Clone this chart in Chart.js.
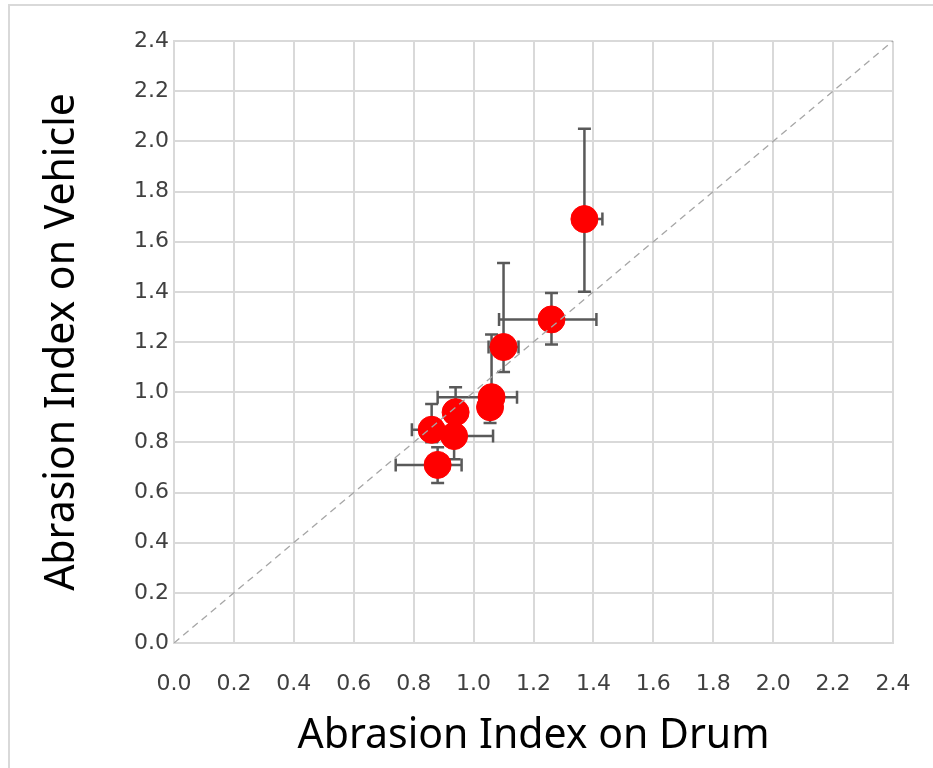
<!DOCTYPE html>
<html>
<head>
<meta charset="utf-8">
<script src="https://cdn.jsdelivr.net/npm/chart.js@4"></script>
<style>
  html, body { margin: 0; padding: 0; background: #fff; overflow: hidden; }
  #wrap { width: 933px; height: 768px; position: relative; }
  canvas { display: block; }
</style>
</head>
<body>
<div id="wrap"><canvas id="chart"></canvas></div>
<script>
// ---- data ----
const drumX    = [1.37, 1.26, 1.10, 1.06, 1.055, 0.94, 0.86, 0.935, 0.88];
const vehicleY = [1.69, 1.29, 1.18, 0.98, 0.94, 0.92, 0.85, 0.825, 0.71];
const xErrMinus = [0.03, 0.175, 0.05, 0.18, 0.02, 0.03, 0.066, 0.055, 0.14];
const xErrPlus  = [0.06, 0.15, 0.05, 0.085, 0.02, 0.03, 0.06, 0.13, 0.08];
const yErrMinus = [0.29, 0.10, 0.10, 0.05, 0.063, 0.07, 0.05, 0.092, 0.072];
const yErrPlus  = [0.36, 0.105, 0.335, 0.25, 0.06, 0.10, 0.103, 0.075, 0.07];
const ticks = [0.0, 0.2, 0.4, 0.6, 0.8, 1.0, 1.2, 1.4, 1.6, 1.8, 2.0, 2.2, 2.4];
const diagonal = [{ x: 0, y: 0 }, { x: 2.4, y: 2.4 }];

const points = drumX.map((x, i) => ({ x, y: vehicleY[i] }));

// error bars, drawn before the markers
const errorBars = {
  id: 'errorBars',
  beforeDatasetDraw(chart, args) {
    if (args.index !== 1) return;
    const { ctx, scales: { x: xs, y: ys } } = chart;
    const cap = 6.5;
    ctx.save();
    ctx.strokeStyle = '#595959';
    ctx.lineWidth = 2.5;
    points.forEach((p, i) => {
      const px = xs.getPixelForValue(p.x), py = ys.getPixelForValue(p.y);
      const x0 = xs.getPixelForValue(p.x - xErrMinus[i]), x1 = xs.getPixelForValue(p.x + xErrPlus[i]);
      const y0 = ys.getPixelForValue(p.y - yErrMinus[i]), y1 = ys.getPixelForValue(p.y + yErrPlus[i]);
      ctx.beginPath();
      ctx.moveTo(x0, py); ctx.lineTo(x1, py);
      ctx.moveTo(x0, py - cap); ctx.lineTo(x0, py + cap);
      ctx.moveTo(x1, py - cap); ctx.lineTo(x1, py + cap);
      ctx.moveTo(px, y0); ctx.lineTo(px, y1);
      ctx.moveTo(px - cap, y0); ctx.lineTo(px + cap, y0);
      ctx.moveTo(px - cap, y1); ctx.lineTo(px + cap, y1);
      ctx.stroke();
    });
    ctx.restore();
  }
};

// outer chart frame (top + left edge visible)
const frame = {
  id: 'frame',
  beforeDraw(chart) {
    const ctx = chart.ctx;
    ctx.save();
    ctx.fillStyle = '#fff';
    ctx.fillRect(0, 0, chart.width, chart.height);
    ctx.strokeStyle = '#d9d9d9';
    ctx.lineWidth = 2;
    ctx.beginPath();
    ctx.moveTo(9, chart.height); ctx.lineTo(9, 5); ctx.lineTo(chart.width, 5);
    ctx.stroke();
    ctx.restore();
  }
};

const tickFont = { family: 'DejaVu Sans', size: 22 };
const titleFont = { family: 'Noto Sans', size: 41 };

new Chart(document.getElementById('chart'), {
  type: 'scatter',
  data: {
    datasets: [
      {
        type: 'line',
        data: diagonal,
        borderColor: '#a6a6a6',
        borderWidth: 1.3,
        borderDash: [7, 5],
        pointRadius: 0,
        fill: false
      },
      {
        data: points,
        backgroundColor: '#ff0000',
        borderColor: '#ff0000',
        pointRadius: 13.5,
        pointHoverRadius: 13.5
      }
    ]
  },
  options: {
    responsive: true,
    maintainAspectRatio: false,
    animation: false,
    layout: { padding: { left: 0, top: 41, right: 40, bottom: 0 } },
    plugins: { legend: { display: false }, tooltip: { enabled: false } },
    scales: {
      x: {
        type: 'linear', min: 0, max: 2.4,
        afterBuildTicks: s => { s.ticks = ticks.map(v => ({ value: v })); },
        afterFit: s => { s.height = 125; },
        grid: { color: '#d9d9d9', lineWidth: 2, drawTicks: true, tickLength: 24,
                tickColor: 'rgba(0,0,0,0)' },
        border: { color: '#d9d9d9', width: 2 },
        ticks: { color: '#404040', font: tickFont, padding: 4, maxRotation: 0,
                 callback: v => v.toFixed(1) },
        title: { display: true, text: 'Abrasion Index on Drum', color: '#000',
                 font: titleFont, padding: { bottom: 7 } }
      },
      y: {
        type: 'linear', min: 0, max: 2.4,
        afterBuildTicks: s => { s.ticks = ticks.map(v => ({ value: v })); },
        afterFit: s => { s.width = 174; },
        grid: { color: '#d9d9d9', lineWidth: 2, drawTicks: false },
        border: { color: '#d9d9d9', width: 2 },
        ticks: { color: '#404040', font: tickFont, padding: 5,
                 callback: v => v.toFixed(1) },
        title: { display: true, text: 'Abrasion Index on Vehicle', color: '#000',
                 font: titleFont, padding: { top: 38 } }
      }
    }
  },
  plugins: [frame, errorBars]
});
</script>
</body>
</html>
